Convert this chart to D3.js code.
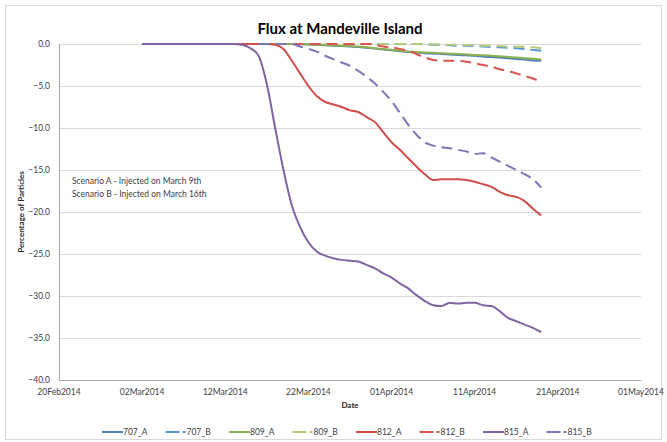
<!DOCTYPE html>
<html lang="en">
<head>
  <meta charset="UTF-8">
  <title>Flux at Mandeville Island</title>
  <script src="https://d3js.org/d3.v7.min.js"></script>
  <style>
    body {
      margin: 0;
      padding: 0;
      background-color: #fff;
      font-family: Lato, 'Open Sans', sans-serif;
    }
    .grid line { stroke: #d9d9d9; stroke-width: 1; }
    .tick-label { font-size: 8.5px; fill: #404040; }
    .series { fill: none; stroke-width: 2; }
  </style>
</head>
<body>
  <script>
    // dates of the model output (daily, 02Mar2014 .. 19Apr2014)
    var dates = [
      "2014-03-02","2014-03-03","2014-03-04","2014-03-05","2014-03-06","2014-03-07","2014-03-08",
      "2014-03-09","2014-03-10","2014-03-11","2014-03-12","2014-03-13","2014-03-14","2014-03-15",
      "2014-03-16","2014-03-17","2014-03-18","2014-03-19","2014-03-20","2014-03-21","2014-03-22",
      "2014-03-23","2014-03-24","2014-03-25","2014-03-26","2014-03-27","2014-03-28","2014-03-29",
      "2014-03-30","2014-03-31","2014-04-01","2014-04-02","2014-04-03","2014-04-04","2014-04-05",
      "2014-04-06","2014-04-07","2014-04-08","2014-04-09","2014-04-10","2014-04-11","2014-04-12",
      "2014-04-13","2014-04-14","2014-04-15","2014-04-16","2014-04-17","2014-04-18","2014-04-19"
    ];

    // percentage of particles (null = not yet injected)
    var s707A = [0,0,0,0,0,0,0,0,0,0,0,0,0,0,0,0,0,0,0,0,
      -0.05,-0.1,-0.15,-0.2,-0.25,-0.3,-0.35,-0.45,-0.55,-0.65,-0.75,-0.85,-0.95,-1.0,-1.1,
      -1.15,-1.2,-1.25,-1.3,-1.35,-1.4,-1.5,-1.55,-1.6,-1.7,-1.8,-1.85,-1.95,-2.0];
    var s707B = [null,null,null,null,null,null,null,null,null,null,null,null,null,null,
      0,0,0,0,0,0,0,0,0,0,0,0,0,0,0,0,0,0,0,0,
      -0.05,-0.1,-0.1,-0.15,-0.2,-0.2,-0.25,-0.3,-0.35,-0.4,-0.45,-0.5,-0.6,-0.7,-0.8];
    var s809A = [0,0,0,0,0,0,0,0,0,0,0,0,0,0,0,0,0,0,0,0,
      -0.05,-0.1,-0.1,-0.15,-0.2,-0.25,-0.3,-0.4,-0.5,-0.6,-0.7,-0.8,-0.9,-0.95,-1.0,
      -1.05,-1.1,-1.15,-1.2,-1.25,-1.3,-1.35,-1.4,-1.45,-1.55,-1.6,-1.7,-1.75,-1.85];
    var s809B = [null,null,null,null,null,null,null,null,null,null,null,null,null,null,
      0,0,0,0,0,0,0,0,0,0,0,0,0,0,0,0,0,0,0,0,
      -0.02,-0.05,-0.05,-0.1,-0.1,-0.15,-0.15,-0.2,-0.2,-0.25,-0.3,-0.3,-0.35,-0.4,-0.5];
    var s812A = [0,0,0,0,0,0,0,0,0,0,0,0,0,0,0,0,
      -0.1,-0.6,-2.0,-3.5,-5.0,-6.2,-6.9,-7.2,-7.5,-7.9,-8.1,-8.7,-9.3,-10.5,-11.7,-12.6,
      -13.6,-14.6,-15.5,-16.2,-16.1,-16.1,-16.1,-16.2,-16.4,-16.7,-17.0,-17.6,-18.0,-18.2,
      -18.7,-19.6,-20.4];
    var s812B = [null,null,null,null,null,null,null,null,null,null,null,null,null,null,
      0,0,0,0,0,0,0,0,0,0,0,0,0,0,
      -0.1,-0.3,-0.4,-0.6,-0.8,-1.2,-1.6,-1.9,-2.0,-2.0,-2.0,-2.1,-2.3,-2.5,-2.7,-3.0,
      -3.2,-3.5,-3.8,-4.1,-4.5];
    var s815A = [0,0,0,0,0,0,0,0,0,0,0,0,
      -0.1,-0.5,-1.4,-4.8,-10,-15,-19.2,-21.8,-23.6,-24.7,-25.2,-25.5,-25.7,-25.8,-25.9,
      -26.3,-26.7,-27.3,-27.8,-28.5,-29.1,-29.9,-30.6,-31.1,-31.2,-30.8,-30.9,-30.8,-30.8,
      -31.1,-31.2,-31.8,-32.6,-33.0,-33.4,-33.8,-34.3];
    var s815B = [null,null,null,null,null,null,null,null,null,null,null,null,null,null,
      0,0,0,0,0,
      -0.3,-0.6,-0.9,-1.4,-1.8,-2.2,-2.6,-3.2,-3.9,-4.7,-5.7,-6.8,-8.2,-9.6,-10.8,-11.7,
      -12.1,-12.3,-12.4,-12.6,-12.8,-13.1,-13.0,-13.5,-14.0,-14.5,-15.0,-15.5,-16.1,-17.1];

    var seriesNames = ["707_A", "707_B", "809_A", "809_B", "812_A", "812_B", "815_A", "815_B"];
    var seriesValues = [s707A, s707B, s809A, s809B, s812A, s812B, s815A, s815B];
    var seriesColors = ["#4f81bd", "#5b93d3", "#8db04e", "#b3cb78", "#d04e4a", "#dc5450", "#8064a2", "#7a76b8"];
    var seriesDashed = [false, true, false, true, false, true, false, true];

    var xTicks = ["2014-02-20","2014-03-02","2014-03-12","2014-03-22","2014-04-01","2014-04-11","2014-04-21","2014-05-01"];
    var yTicks = [0, -5, -10, -15, -20, -25, -30, -35, -40];

    var W = 667, H = 442;
    var plot = { left: 59, right: 641, top: 44, bottom: 380 };
    var parse = d3.utcParse("%Y-%m-%d");
    var fmt = d3.utcFormat("%d%b%Y");

    var svg = d3.select("body").append("svg")
        .attr("width", W)
        .attr("height", H);

    // outer chart border
    svg.append("rect")
        .attr("x", 5.5).attr("y", 5.5)
        .attr("width", W - 11).attr("height", H - 8)
        .attr("fill", "#fff")
        .attr("stroke", "#d9d9d9");

    var x = d3.scaleUtc()
        .domain([parse(xTicks[0]), parse(xTicks[xTicks.length - 1])])
        .range([plot.left, plot.right]);
    var y = d3.scaleLinear()
        .domain([-40, 0])
        .range([plot.bottom, plot.top]);

    // horizontal gridlines
    svg.append("g")
        .attr("class", "grid")
      .selectAll("line")
      .data(yTicks)
      .enter().append("line")
        .attr("x1", plot.left).attr("x2", plot.right)
        .attr("y1", function(d) { return Math.round(y(d)) + 0.5; })
        .attr("y2", function(d) { return Math.round(y(d)) + 0.5; });

    // axis lines
    svg.append("line")
        .attr("x1", plot.left + 0.5).attr("x2", plot.left + 0.5)
        .attr("y1", plot.top).attr("y2", plot.bottom)
        .attr("stroke", "#a6a6a6");
    svg.append("line")
        .attr("x1", plot.left).attr("x2", plot.right)
        .attr("y1", Math.round(y(-40)) + 0.5).attr("y2", Math.round(y(-40)) + 0.5)
        .attr("stroke", "#a6a6a6");

    // y tick labels
    svg.append("g").selectAll("text")
      .data(yTicks)
      .enter().append("text")
        .attr("class", "tick-label")
        .attr("x", 50)
        .attr("y", function(d) { return y(d); })
        .attr("dy", "0.35em")
        .attr("text-anchor", "end")
        .text(function(d) { return d3.format(".1f")(d); });

    // x tick labels
    svg.append("g").selectAll("text")
      .data(xTicks)
      .enter().append("text")
        .attr("class", "tick-label")
        .attr("x", function(d) { return x(parse(d)); })
        .attr("y", 395)
        .attr("text-anchor", "middle")
        .text(function(d) { return fmt(parse(d)); });

    // titles
    svg.append("text")
        .attr("x", 340).attr("y", 34)
        .attr("text-anchor", "middle")
        .style("font-size", "15px")
        .style("font-weight", "bold")
        .style("fill", "#000")
        .text("Flux at Mandeville Island");

    svg.append("text")
        .attr("x", (plot.left + plot.right) / 2).attr("y", 408)
        .attr("text-anchor", "middle")
        .style("font-size", "8px")
        .style("font-weight", "bold")
        .style("fill", "#262626")
        .text("Date");

    svg.append("text")
        .attr("transform", "translate(24," + ((plot.top + plot.bottom) / 2) + ") rotate(-90)")
        .attr("text-anchor", "middle")
        .style("font-size", "8px")
        .style("font-weight", "bold")
        .style("fill", "#262626")
        .text("Percentage of Particles");

    // annotation
    var note = svg.append("text")
        .attr("x", 72).attr("y", 184)
        .style("font-size", "8.5px")
        .style("fill", "#404040");
    note.append("tspan").attr("x", 72).text("Scenario A - Injected on March 9th");
    note.append("tspan").attr("x", 72).attr("dy", 13).text("Scenario B - Injected on March 16th");

    // series lines
    var line = d3.line()
        .defined(function(d) { return d.v !== null; })
        .x(function(d) { return x(d.date); })
        .y(function(d) { return y(d.v); })
        .curve(d3.curveMonotoneX);

    seriesValues.forEach(function(vals, i) {
      var pts = vals.map(function(v, j) { return { date: parse(dates[j]), v: v }; });
      svg.append("path")
          .datum(pts)
          .attr("class", "series")
          .attr("stroke", seriesColors[i])
          .attr("stroke-dasharray", seriesDashed[i] ? "11,6" : null)
          .attr("d", line);
    });

    // legend
    var legend = svg.append("g")
        .attr("transform", "translate(102,432)");
    var item = legend.selectAll("g")
      .data(seriesNames)
      .enter().append("g")
        .attr("transform", function(d, i) { return "translate(" + (i * 63.5) + ",0)"; });
    item.append("line")
        .attr("x1", 0)
        .attr("x2", function(d, i) { return seriesDashed[i] ? 14 : 21; })
        .attr("stroke", function(d, i) { return seriesColors[i]; })
        .attr("stroke-width", 2);
    item.filter(function(d, i) { return seriesDashed[i]; })
      .append("line")
        .attr("x1", 17).attr("x2", 20)
        .attr("stroke", function(d) { return seriesColors[seriesNames.indexOf(d)]; })
        .attr("stroke-width", 2);
    item.append("text")
        .attr("class", "tick-label")
        .attr("x", 21)
        .attr("dy", "0.35em")
        .text(function(d) { return d; });
  </script>
</body>
</html>
